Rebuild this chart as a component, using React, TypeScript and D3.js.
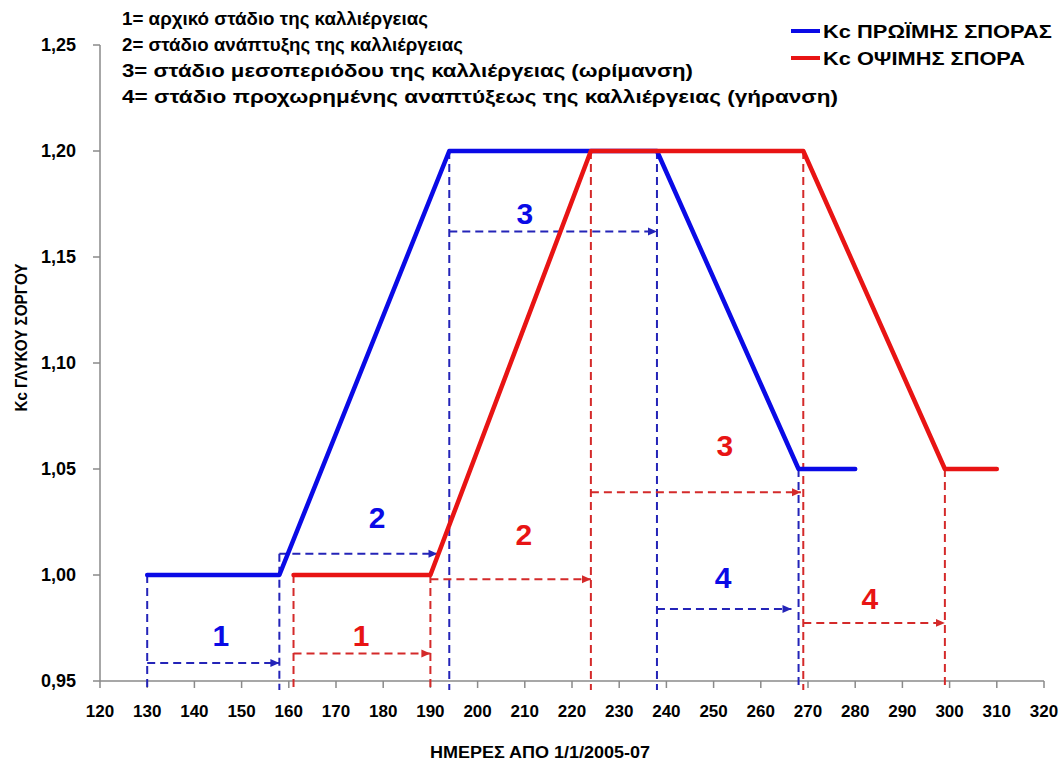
import React from "react";
import * as d3 from "d3";

// ---- data ----
const earlyDays = [130, 158, 194, 238, 268, 280];
const earlyKc = [1.0, 1.0, 1.2, 1.2, 1.05, 1.05];
const lateDays = [161, 190, 224, 269, 299, 310];
const lateKc = [1.0, 1.0, 1.2, 1.2, 1.05, 1.05];

const earlyBounds = [130, 158, 194, 238, 268];
const earlyBoundTop = [1.0, 1.01, 1.2, 1.2, 1.05];
const lateBounds = [161, 190, 224, 269, 299];
const lateBoundTop = [1.0, 1.0, 1.2, 1.2, 1.05];

const earlyArrowFrom = [130, 158, 194, 238];
const earlyArrowTo = [158, 191.5, 238, 266.5];
const earlyArrowKc = [0.9585, 1.01, 1.162, 0.984];
const lateArrowFrom = [161, 190, 224, 269];
const lateArrowTo = [190, 224, 268.5, 299];
const lateArrowKc = [0.963, 0.998, 1.039, 0.9774];

const stageNumbers = ["1", "2", "3", "4"];
const earlyLabelDay = [145.6, 178.7, 210, 252];
const earlyLabelKc = [0.9717, 1.0274, 1.1708, 0.999];
const lateLabelDay = [175.3, 209.8, 252.4, 283.1];
const lateLabelKc = [0.9717, 1.0193, 1.0613, 0.9892];

const xTicks = d3.range(120, 321, 10);
const yTicks = [0.95, 1.0, 1.05, 1.1, 1.15, 1.2, 1.25];

const stageNotes = [
  "1= αρχικό στάδιο της καλλιέργειας",
  "2= στάδιο ανάπτυξης της καλλιέργειας",
  "3= στάδιο μεσοπεριόδου της καλλιέργειας (ωρίμανση)",
  "4= στάδιο προχωρημένης αναπτύξεως της καλλιέργειας (γήρανση)",
];
const seriesNames = ["Kc ΠΡΩΪΜΗΣ ΣΠΟΡΑΣ", "Kc ΟΨΙΜΗΣ ΣΠΟΡΑ"];
const xTitle = "ΗΜΕΡΕΣ ΑΠΟ 1/1/2005-07";
const yTitle = "Kc ΓΛΥΚΟΥ ΣΟΡΓΟΥ";

// ---- styles ----
const W = 1062, H = 769;
const FONT = "'Liberation Sans', Arial, sans-serif";
const BLUE = "#0a0ae6";
const RED = "#e81414";
const BLUE_D = "#2424b8";
const RED_D = "#d42a2a";
const AXIS = "#8a8a8a";
const noteWidths = [306, 341, 571, 716];
const legendWidths = [229, 202];

export default function App() {
  const x = d3.scaleLinear().domain([120, 320]).range([100, 1044]);
  const y = d3.scaleLinear().domain([0.95, 1.25]).range([681, 45]);
  const fmt = (v: number) => d3.format(".2f")(v).replace(".", ",");
  const line = d3
    .line<[number, number]>()
    .x((d) => x(d[0]))
    .y((d) => y(d[1]));
  const early = earlyDays.map((d, i) => [d, earlyKc[i]] as [number, number]);
  const late = lateDays.map((d, i) => [d, lateKc[i]] as [number, number]);
  const y0 = y(0.95);

  const series = [
    {
      bounds: earlyBounds, top: earlyBoundTop, aFrom: earlyArrowFrom, aTo: earlyArrowTo, aKc: earlyArrowKc,
      lDay: earlyLabelDay, lKc: earlyLabelKc, dash: BLUE_D, col: BLUE, id: "ab",
    },
    {
      bounds: lateBounds, top: lateBoundTop, aFrom: lateArrowFrom, aTo: lateArrowTo, aKc: lateArrowKc,
      lDay: lateLabelDay, lKc: lateLabelKc, dash: RED_D, col: RED, id: "ar",
    },
  ];

  return (
    <svg
      width={W}
      height={H}
      style={{ position: "absolute", left: 0, top: 0, background: "#fff" }}
      fontFamily={FONT}
    >
      <defs>
        {series.map((s) => (
          <marker
            key={s.id}
            id={s.id}
            markerUnits="userSpaceOnUse"
            markerWidth={10}
            markerHeight={10}
            refX={9}
            refY={5}
            orient="auto"
          >
            <path d="M0,1 L9,5 L0,9 Z" fill={s.dash} />
          </marker>
        ))}
      </defs>

      {/* axes */}
      <line x1={x(120)} x2={x(120)} y1={y(1.25)} y2={y0} stroke={AXIS} strokeWidth={1.5} />
      <line x1={x(120)} x2={x(320)} y1={y0} y2={y0} stroke={AXIS} strokeWidth={1.5} />
      {yTicks.map((t) => (
        <g key={t}>
          <line x1={x(120) - 7} x2={x(120)} y1={y(t)} y2={y(t)} stroke={AXIS} strokeWidth={1.5} />
          <text x={x(120) - 24} y={y(t)} dy="0.35em" textAnchor="end" fontSize={18} fontWeight="bold">
            {fmt(t)}
          </text>
        </g>
      ))}
      {xTicks.map((t) => (
        <g key={t}>
          <line x1={x(t)} x2={x(t)} y1={y0} y2={y0 + 7} stroke={AXIS} strokeWidth={1.5} />
          <text x={x(t)} y={y0 + 36} textAnchor="middle" fontSize={17} fontWeight="bold">
            {t}
          </text>
        </g>
      ))}
      <text
        x={540}
        y={758}
        textAnchor="middle"
        fontSize={16}
        fontWeight="bold"
        textLength={220}
        lengthAdjust="spacingAndGlyphs"
      >
        {xTitle}
      </text>
      <text
        transform={`translate(27,${y(1.112)}) rotate(-90)`}
        textAnchor="middle"
        fontSize={16}
        fontWeight="bold"
        textLength={148}
        lengthAdjust="spacingAndGlyphs"
      >
        {yTitle}
      </text>

      {/* stage guides */}
      {series.map((s) => (
        <g key={s.id}>
          {s.bounds.map((b, i) => (
            <line
              key={"v" + i}
              x1={x(b)}
              x2={x(b)}
              y1={y(s.top[i])}
              y2={y0 + 9}
              stroke={s.dash}
              strokeWidth={2}
              strokeDasharray="8,5"
            />
          ))}
          {s.aFrom.map((f, i) => (
            <line
              key={"a" + i}
              x1={x(f)}
              x2={x(s.aTo[i])}
              y1={y(s.aKc[i])}
              y2={y(s.aKc[i])}
              stroke={s.dash}
              strokeWidth={2}
              strokeDasharray="8,5"
              markerEnd={`url(#${s.id})`}
            />
          ))}
        </g>
      ))}

      {/* series lines */}
      <path d={line(early) || ""} fill="none" stroke={BLUE} strokeWidth={4.5} strokeLinejoin="round" strokeLinecap="round" />
      <path d={line(late) || ""} fill="none" stroke={RED} strokeWidth={4.5} strokeLinejoin="round" strokeLinecap="round" />

      {/* stage numbers */}
      {series.map((s) => (
        <g key={"l" + s.id}>
          {stageNumbers.map((n, i) => (
            <text
              key={n}
              x={x(s.lDay[i])}
              y={y(s.lKc[i])}
              dy="0.36em"
              textAnchor="middle"
              fontSize={30}
              fontWeight="bold"
              fill={s.col}
            >
              {n}
            </text>
          ))}
        </g>
      ))}

      {/* notes */}
      {stageNotes.map((t, i) => (
        <text
          key={i}
          x={122}
          y={18 + i * 26}
          dy="0.35em"
          fontSize={19}
          fontWeight="bold"
          textLength={noteWidths[i]}
          lengthAdjust="spacingAndGlyphs"
        >
          {t}
        </text>
      ))}

      {/* legend */}
      {seriesNames.map((n, i) => (
        <g key={n}>
          <line x1={791} x2={820} y1={31 + i * 27} y2={31 + i * 27} stroke={i === 0 ? BLUE : RED} strokeWidth={4} />
          <text
            x={823}
            y={31 + i * 27}
            dy="0.35em"
            fontSize={19}
            fontWeight="bold"
            textLength={legendWidths[i]}
            lengthAdjust="spacingAndGlyphs"
          >
            {n}
          </text>
        </g>
      ))}
    </svg>
  );
}
